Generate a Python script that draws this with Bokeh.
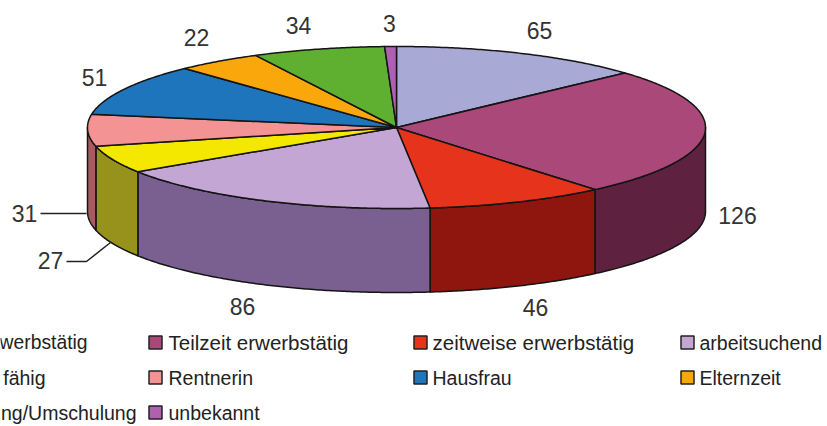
import numpy as np
from bokeh.embed import file_html
from bokeh.resources import INLINE
from bokeh.plotting import figure
from bokeh.models import Range1d
from bokeh.core.properties import value

categories = ["werbstätig", "Teilzeit erwerbstätig", "zeitweise erwerbstätig", "arbeitsuchend",
              "fähig", "Rentnerin", "Hausfrau", "Elternzeit", "ng/Umschulung", "unbekannt"]
values = [65, 126, 46, 86, 27, 31, 51, 22, 34, 3]
top_colors = ["#A9A9D6", "#AB487A", "#E6331C", "#C4A6D4", "#F5E800", "#F49393", "#1F75BC", "#F9A70A", "#5FB030", "#B060B0"]
side_colors = ["#6F6F90", "#5E2240", "#8E160E", "#7A6090", "#96921C", "#A85A60", "#154E7E", "#A56F06", "#3F7520", "#754075"]
value_label_x = [539, 737, 535, 242, 50, 24, 94, 196, 298, 389]
value_label_y = [30, 215, 307, 306, 260, 213, 77, 37, 25, 23]
legend_swatch_x = [155, 420, 687, 155, 420, 687, 155]
legend_swatch_colors = top_colors[1:4] + top_colors[5:8] + top_colors[9:]
legend_swatch_y = [342, 342, 342, 377, 377, 377, 412]
legend_text_x = [87, 168, 432, 699, 45, 168, 432, 699, 136, 168]
legend_row_y = [342, 342, 342, 342, 377, 377, 377, 377, 412, 412]
legend_align = ["right", "left", "left", "left", "right", "left", "left", "left", "right", "left"]
legend_font_size = ["19.3px", "20.5px", "20.5px", "19.5px", "19.5px", "19.5px", "19.5px", "19.5px", "19.5px", "19.5px"]

CX, CY, A, B, DEPTH = 396, 127, 309, 81, 84
LINE = "#141414"
FONT = value("Liberation Sans")

p = figure(width=827, height=426, output_backend="svg", toolbar_location=None,
           x_range=Range1d(0, 827), y_range=Range1d(426, 0), min_border=0,
           outline_line_color=None, margin=0)
p.axis.visible = False
p.grid.visible = False


def arc(a0, a1):
    t = np.radians(np.linspace(a0, a1, max(2, int(abs(a1 - a0) * 2) + 2)))
    return CX + A * np.sin(t), CY - B * np.cos(t)


edges = np.concatenate([[0], np.cumsum(values)]) * 360 / sum(values)

for i in range(len(values)):
    a0, a1 = max(edges[i], 90), min(edges[i + 1], 270)
    if a1 > a0:
        x, y = arc(a0, a1)
        p.patch(np.r_[x, x[::-1]], np.r_[y, y[::-1] + DEPTH], fill_color=side_colors[i],
                line_color=LINE, line_width=1.5, line_join="round")

for i in range(len(values)):
    x, y = arc(edges[i], edges[i + 1])
    p.patch(np.r_[CX, x], np.r_[CY, y], fill_color=top_colors[i],
            line_color=LINE, line_width=1.5, line_join="round")

p.line([40, 86], [213, 213], line_color="#222222", line_width=1.5)
p.line([66, 86, 110], [261, 261, 242], line_color="#222222", line_width=1.5)

p.text(value_label_x, value_label_y, text=[str(v) for v in values], text_font=FONT,
       text_font_size="23px", text_color="#333333", text_align="center", text_baseline="middle")

p.rect(legend_swatch_x, legend_swatch_y, width=13, height=13, fill_color=legend_swatch_colors,
       line_color="#222222", line_width=1.5)
p.text(legend_text_x, legend_row_y, text=categories, text_font=FONT, text_font_size=legend_font_size,
       text_color="#222222", text_baseline="middle", text_align=legend_align)

open("out.html", "w").write(file_html(p, INLINE))
